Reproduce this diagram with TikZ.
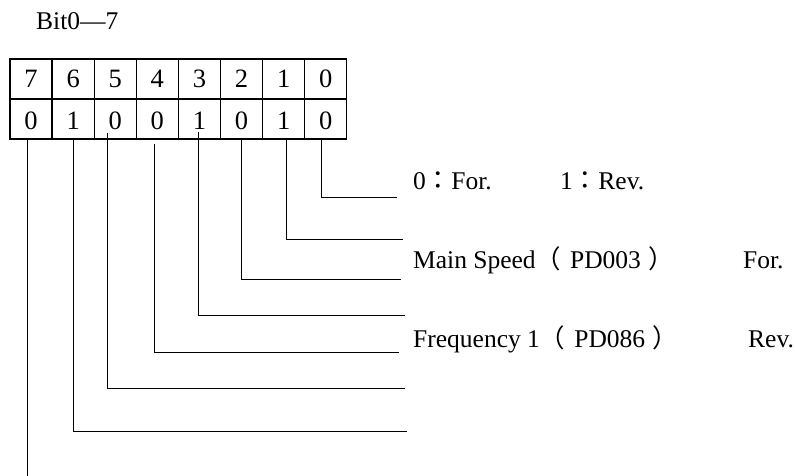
\documentclass[tikz,border=0pt]{standalone}
\usepackage{fontspec}
\setmainfont{Liberation Serif}
\newfontfamily\cjk{Noto Sans CJK TC}
\newcommand{\fw}[1]{{\cjk #1}}
\newcommand{\lpar}{{\cjk （}\hspace{0.35em}}
\newcommand{\rpar}{\hspace{0.3em}{\cjk ）}}

\begin{document}
\begin{tikzpicture}[x=1pt,y=-1pt,cell/.style={draw,line width=1.3pt,minimum width=42.1pt,minimum height=40pt,inner sep=0pt,font=\fontsize{26.5}{30}\selectfont},lowcell/.style={cell,text height=22pt,text depth=0pt},lead/.style={line width=1pt},note/.style={anchor=base west,inner sep=0pt,font=\fontsize{25.5}{30}\selectfont}]
\useasboundingbox (0,0) rectangle (795,476);
\node[note] (title) at (36,30) {Bit0—7};
\node[cell] (t7) at (31.05,79) {7};
\node[cell] (t6) at (73.15,79) {6};
\node[cell] (t5) at (115.25,79) {5};
\node[cell] (t4) at (157.35,79) {4};
\node[cell] (t3) at (199.45,79) {3};
\node[cell] (t2) at (241.55,79) {2};
\node[cell] (t1) at (283.65,79) {1};
\node[cell] (t0) at (325.75,79) {0};
\node[lowcell] (b7) at (31.05,119) {0};
\node[lowcell] (b6) at (73.15,119) {1};
\node[lowcell] (b5) at (115.25,119) {0};
\node[lowcell] (b4) at (157.35,119) {0};
\node[lowcell] (b3) at (199.45,119) {1};
\node[lowcell] (b2) at (241.55,119) {0};
\node[lowcell] (b1) at (283.65,119) {1};
\node[lowcell] (b0) at (325.75,119) {0};
\coordinate (c0) at (321,197.5);
\coordinate (e0) at (397,197.5);
\coordinate (c1) at (286,239);
\coordinate (e1) at (403,239);
\coordinate (c2) at (241,279);
\coordinate (e2) at (401,279);
\coordinate (c3) at (198,315);
\coordinate (e3) at (405,315);
\coordinate (c4) at (154,352);
\coordinate (e4) at (399,352);
\coordinate (c5) at (107,388);
\coordinate (e5) at (405,388);
\coordinate (c6) at (73,431);
\coordinate (e6) at (407,431);
\coordinate (e7) at (27,476);
\draw[lead] (c0 |- b0.south) -- (c0) -- (e0);
\draw[lead] (c1 |- b1.south) -- (c1) -- (e1);
\draw[lead] (c2 |- b2.south) -- (c2) -- (e2);
\draw[lead] ([yshift=8pt]c3 |- b3.south) -- (c3) -- (e3);
\draw[lead] ([yshift=-4pt]c4 |- b4.south) -- (c4) -- (e4);
\draw[lead] ([yshift=7pt]c5 |- b5.south) -- (c5) -- (e5);
\draw[lead] (c6 |- b6.south) -- (c6) -- (e6);
\draw[lead] (e7 |- b7.south) -- (e7);
\node[note] (dir0) at (413,189) {0\fw{：}For.};
\node[note] (dir1) at (560,189) {1\fw{：}Rev.};
\node[note] (main) at (413,268) {Main Speed\lpar PD003\rpar};
\node[note] (fwd) at (743,268) {For.};
\node[note] (freq) at (413,347) {Frequency 1\lpar PD086\rpar};
\node[note] (rev) at (748,347) {Rev.};
\end{tikzpicture}
\end{document}
